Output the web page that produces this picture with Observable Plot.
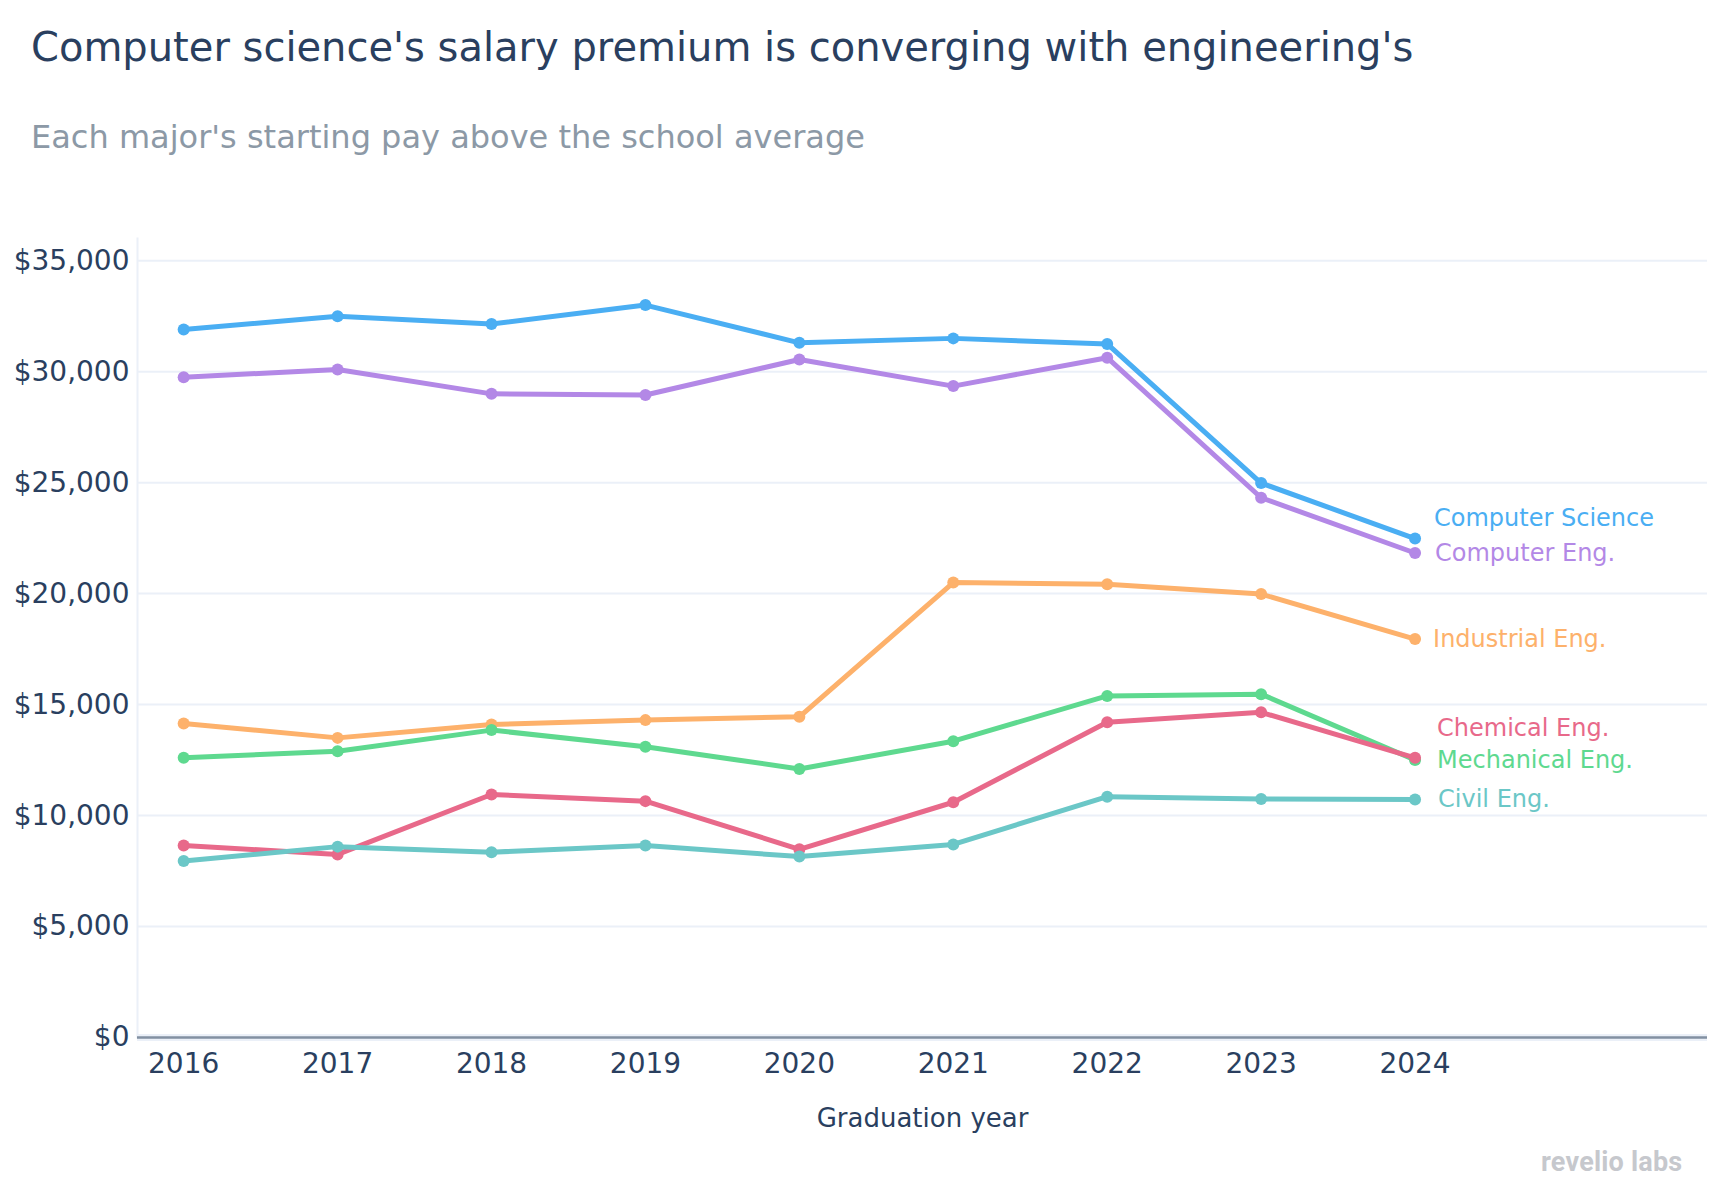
<!DOCTYPE html>
<html><head><meta charset="utf-8">
<script src="https://cdn.jsdelivr.net/npm/d3@7"></script>
<script src="https://cdn.jsdelivr.net/npm/@observablehq/plot@0.6"></script>
<style>
body{margin:0;background:#fff;}
#wrap{position:relative;width:1722px;height:1200px;font-family:"DejaVu Sans",sans-serif;overflow:hidden;}
.t{position:absolute;white-space:nowrap;line-height:1;}
#chart{position:absolute;left:0;top:0;}
</style></head><body>
<div id="wrap">
<div id="chart"></div>
<div class="t" style="left:31px;top:27px;font-size:40px;color:#2a3f5f;">Computer science's salary premium is converging with engineering's</div>
<div class="t" style="left:31px;top:121px;font-size:32px;color:#8c99a6;">Each major's starting pay above the school average</div>
<div class="t" style="left:1541px;top:1149px;font-family:Roboto,sans-serif;font-weight:700;font-size:27px;color:#c6c8cd;letter-spacing:0.2px;">revelio labs</div>
</div>
<script>
const years = [2016, 2017, 2018, 2019, 2020, 2021, 2022, 2023, 2024];
const yTicks = [0, 5000, 10000, 15000, 20000, 25000, 30000, 35000];

const seriesNames = ["Computer Science", "Computer Eng.", "Industrial Eng.", "Mechanical Eng.", "Chemical Eng.", "Civil Eng."];
const computerScience = [31900, 32500, 32150, 33000, 31300, 31500, 31250, 24980, 22480];
const computerEng     = [29750, 30100, 29000, 28950, 30550, 29350, 30630, 24320, 21830];
const industrialEng   = [14150, 13500, 14100, 14300, 14450, 20500, 20420, 19980, 17950];
const mechanicalEng   = [12600, 12900, 13850, 13100, 12100, 13350, 15390, 15470, 12500];
const chemicalEng     = [8650, 8250, 10950, 10650, 8480, 10600, 14200, 14650, 12600];
const civilEng        = [7950, 8600, 8350, 8650, 8150, 8700, 10850, 10750, 10720];

const seriesValues = [computerScience, computerEng, industrialEng, mechanicalEng, chemicalEng, civilEng];
const colors = ["#4aaef3", "#b388e6", "#fdb16b", "#5ed98f", "#e8698a", "#6bc7c7"];
// label nudges (style only)
const labelDx = [19, 20, 18, 22, 22, 23];
const labelDy = [-20, 0, 0, 0, -30, 0];

const data = [];
seriesNames.forEach((name, i) => {
  years.forEach((yr, j) => data.push({series: name, year: yr, value: seriesValues[i][j]}));
});

const marks = [
  Plot.gridY(yTicks, {stroke: "#ebf0f8", strokeOpacity: 1, strokeWidth: 2}),
  Plot.frame({anchor: "left", stroke: "#ebf0f8", strokeWidth: 2}),
  Plot.ruleY([0], {stroke: "#ebf0f8", strokeWidth: 7}),
  Plot.ruleY([0], {stroke: "#8290a2", strokeWidth: 2.5}),
  Plot.axisY(yTicks, {tickSize: 0, tickPadding: 8, tickFormat: d => "$" + d3.format(",")(d), fontSize: 28, fill: "#2a3f5f", label: null}),
  Plot.axisX(years, {tickSize: 0, tickPadding: 16, tickFormat: d => String(d), fontSize: 28, fill: "#2a3f5f", label: null}),
  Plot.text(["Graduation year"], {frameAnchor: "bottom", dy: 81, fontSize: 26, fill: "#2a3f5f", lineAnchor: "middle"})
];

seriesNames.forEach((name, i) => {
  const d = data.filter(r => r.series === name);
  marks.push(Plot.line(d, {x: "year", y: "value", stroke: colors[i], strokeWidth: 5, strokeLinejoin: "round", strokeLinecap: "round"}));
  marks.push(Plot.dot(d, {x: "year", y: "value", fill: colors[i], r: 6, stroke: "none"}));
});
seriesNames.forEach((name, i) => {
  const last = data.filter(r => r.series === name && r.year === years[years.length - 1]);
  marks.push(Plot.text(last, {x: "year", y: "value", text: "series", dx: labelDx[i], dy: labelDy[i], textAnchor: "start", lineAnchor: "middle", fill: colors[i], fontSize: 24}));
});

const chart = Plot.plot({
  width: 1722,
  height: 1200,
  marginTop: 238,
  marginBottom: 163,
  marginLeft: 137,
  marginRight: 15,
  style: {fontFamily: "DejaVu Sans, sans-serif", fontSize: "28px", background: "transparent", overflow: "visible"},
  x: {domain: [2015.7, 2025.9], axis: null},
  y: {domain: [0, 36000], axis: null},
  marks
});
document.getElementById("chart").appendChild(chart);
</script>
</body></html>
